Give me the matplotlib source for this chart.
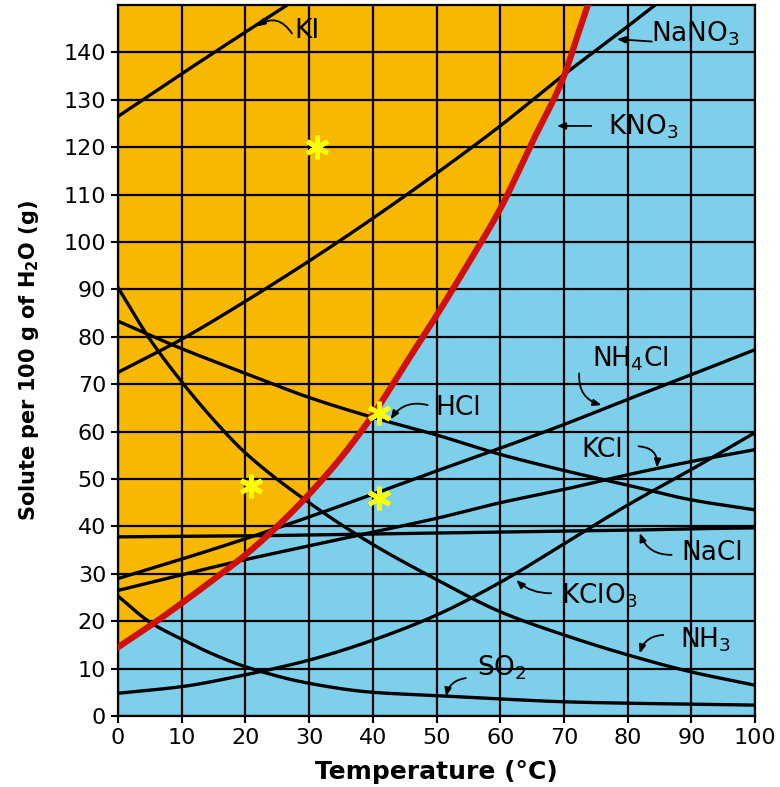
import numpy as np
import matplotlib
matplotlib.use("Agg")
import matplotlib.pyplot as plt

# ---------------- data ----------------
temps = [0, 10, 20, 30, 40, 50, 60, 70, 80, 90, 100]

ki_t = [0, 10, 20, 30]
ki_s = [126.5, 135.5, 144.3, 153.0]

nano3_t = [0, 10, 20, 30, 40, 50, 60, 70, 80, 90]
nano3_s = [72.5, 79.5, 87.5, 96.0, 105.0, 114.5, 124.5, 135.3, 145.5, 156.0]

kno3_t = [0, 5, 10, 15, 20, 25, 30, 35, 40, 45, 50, 55, 60, 65, 70, 72, 74, 76]
kno3_s = [14.5, 19.0, 23.8, 28.8, 34.0, 40.0, 46.8, 54.5, 63.5, 74.0, 84.5, 95.5,
          107.0, 121.0, 135.0, 143.0, 151.0, 159.0]

hcl_s = [83.3, 77.5, 72.3, 67.2, 63.0, 59.3, 55.2, 51.8, 48.7, 45.6, 43.5]
nh3_t = [0, 5, 10, 15, 20, 30, 40, 50, 60, 70, 80, 90, 100]
nh3_s = [90.4, 79.5, 70.5, 62.5, 55.5, 45.0, 36.2, 28.8, 22.0, 17.1, 12.9, 9.3, 6.5]
nh4cl_s = [29.0, 33.1, 37.4, 42.0, 46.8, 51.7, 56.5, 61.5, 66.8, 72.0, 77.3]
kcl_s = [26.5, 29.8, 33.0, 35.9, 38.8, 41.7, 45.0, 47.8, 50.9, 53.7, 56.2]
nacl_s = [37.8, 37.9, 38.0, 38.2, 38.4, 38.6, 38.8, 39.0, 39.2, 39.5, 39.7]
kclo3_s = [4.8, 6.2, 8.7, 11.8, 16.0, 21.3, 28.2, 36.3, 44.5, 52.0, 59.8]
so2_t = [0, 5, 10, 15, 20, 30, 40, 50, 60, 70, 80, 90, 100]
so2_s = [25.3, 19.8, 16.2, 13.0, 10.4, 6.9, 5.0, 4.3, 3.6, 3.0, 2.7, 2.5, 2.3]

star_t = [31.2, 20.9, 40.9, 41.0]
star_s = [120.0, 48.6, 64.0, 46.0]

x_ticks = list(range(0, 101, 10))
y_ticks = list(range(0, 141, 10))

# label text, label position, arrow start, arrow end, curvature
labels = [
    ("KI", (29.6, 144.5), (27.3, 144.0), (21.8, 145.5), 0.5),
    ("NaNO$_3$", (90.6, 144.0), (83.8, 142.3), (78.3, 142.8), 0.0),
    ("KNO$_3$", (82.4, 124.3), (74.3, 124.5), (68.9, 124.5), 0.0),
    ("NH$_4$Cl", (80.4, 75.4), (72.4, 72.3), (75.9, 65.6), 0.4),
    ("HCl", (53.4, 65.0), (48.6, 65.6), (42.8, 62.6), 0.35),
    ("KCl", (76.0, 56.2), (81.7, 56.9), (84.6, 52.4), -0.5),
    ("NaCl", (93.2, 34.3), (86.9, 34.0), (81.9, 38.6), -0.35),
    ("KClO$_3$", (75.6, 25.4), (68.0, 25.9), (62.5, 28.7), -0.2),
    ("NH$_3$", (92.3, 16.0), (85.6, 17.1), (81.9, 13.2), 0.35),
    ("SO$_2$", (60.3, 10.2), (54.6, 8.0), (51.5, 4.1), 0.35),
]


def smooth(xp, yp, n=400):
    """Monotone cubic (PCHIP) rendering through the given points."""
    x = np.asarray(xp, float)
    y = np.asarray(yp, float)
    h = np.diff(x)
    d = np.diff(y) / h
    m = np.zeros_like(y)
    m[0], m[-1] = d[0], d[-1]
    for k in range(1, len(x) - 1):
        if d[k - 1] * d[k] > 0:
            w1 = 2 * h[k] + h[k - 1]
            w2 = h[k] + 2 * h[k - 1]
            m[k] = (w1 + w2) / (w1 / d[k - 1] + w2 / d[k])
    xs = np.linspace(x[0], x[-1], n)
    idx = np.clip(np.searchsorted(x, xs) - 1, 0, len(x) - 2)
    t = (xs - x[idx]) / h[idx]
    h00 = 2 * t**3 - 3 * t**2 + 1
    h10 = t**3 - 2 * t**2 + t
    h01 = -2 * t**3 + 3 * t**2
    h11 = t**3 - t**2
    ys = (h00 * y[idx] + h10 * h[idx] * m[idx] + h01 * y[idx + 1]
          + h11 * h[idx] * m[idx + 1])
    return xs, ys


# ---------------- figure ----------------
ORANGE = "#F8B800"
BLUE = "#7ED0EA"
RED = "#D01010"

fig = plt.figure(figsize=(7.8, 7.87), dpi=100)
ax = fig.add_axes([0.1513, 0.0902, 0.8167, 0.9034])
ax.set_facecolor(BLUE)
ax.set_xlim(0, 100)
ax.set_ylim(0, 150)

kx, ky = smooth(kno3_t, kno3_s)
ax.fill_between(kx, ky, 165, color=ORANGE, zorder=0.5, linewidth=0)

ax.set_xticks(x_ticks)
ax.set_yticks(y_ticks)
ax.grid(True, color="black", linewidth=1.6, zorder=1)
ax.set_axisbelow(False)
for gl in ax.get_xgridlines() + ax.get_ygridlines():
    gl.set_zorder(1)

lw = 2.4
for tt, ss in [(ki_t, ki_s), (nano3_t, nano3_s), (temps, hcl_s), (nh3_t, nh3_s),
               (temps, nh4cl_s), (temps, kcl_s), (temps, nacl_s),
               (temps, kclo3_s), (so2_t, so2_s)]:
    sx, sy = smooth(tt, ss)
    ax.plot(sx, sy, color="black", lw=lw, zorder=2)
ax.plot(kx, ky, color=RED, lw=4.5, zorder=3, solid_capstyle="round")

ax.plot(star_t, star_s, linestyle="none", marker=(6, 2, 0), markersize=17,
        markeredgewidth=3.4, color="#FFFF00", zorder=5)

for txt, pos, a0, a1, rad in labels:
    ax.text(pos[0], pos[1], txt, fontsize=19, ha="center", va="center", zorder=4)
    ax.annotate("", xy=a1, xytext=a0,
                arrowprops=dict(arrowstyle="-|>,head_length=0.5,head_width=0.2",
                                color="black", lw=1.3,
                                connectionstyle=f"arc3,rad={rad}",
                                shrinkA=0, shrinkB=0),
                zorder=4)

for s in ax.spines.values():
    s.set_color("black")
    s.set_linewidth(1.6)

ax.tick_params(axis="both", direction="out", length=5, width=1.5,
               labelsize=16, colors="black")
ax.set_xlabel("Temperature (°C)", fontsize=18, fontweight="bold", labelpad=9)
ax.set_ylabel("Solute per 100 g of H$_\\mathregular{2}$O (g)", fontsize=15,
              fontweight="bold", labelpad=16)

fig.savefig("out.png", dpi=100)
